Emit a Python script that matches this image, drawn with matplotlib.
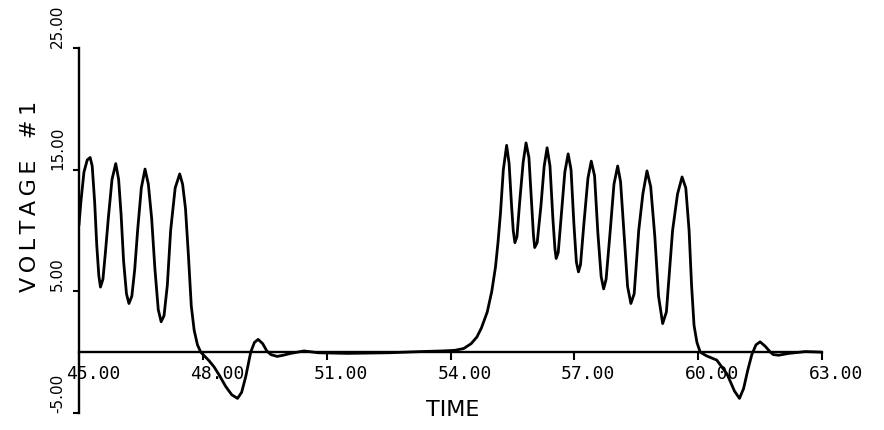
import matplotlib
matplotlib.use("Agg")
import matplotlib.pyplot as plt
import matplotlib.transforms as mtransforms

# time / voltage values
time = [45.00, 45.05, 45.12, 45.20, 45.27, 45.32, 45.38, 45.43, 45.48, 45.52,
        45.58, 45.64, 45.71, 45.80, 45.89, 45.96, 46.02, 46.08, 46.15, 46.21,
        46.28, 46.35, 46.42, 46.51, 46.60, 46.68, 46.76, 46.84, 46.92, 46.99,
        47.06, 47.14, 47.22, 47.33, 47.44, 47.51, 47.58, 47.65, 47.72, 47.79,
        47.87, 47.95, 48.05, 48.15, 48.27, 48.40, 48.55, 48.70, 48.84, 48.94,
        49.04, 49.10, 49.16, 49.25, 49.34, 49.45, 49.55, 49.65, 49.80, 49.95,
        50.13, 50.45, 50.80, 51.50, 52.50, 53.30, 53.80, 54.10, 54.32, 54.50,
        54.64, 54.75, 54.89, 55.00, 55.09, 55.15, 55.21, 55.28, 55.36, 55.42,
        55.48, 55.52, 55.56, 55.61, 55.68, 55.76, 55.83, 55.90, 55.96, 56.01,
        56.04, 56.10, 56.19, 56.27, 56.34, 56.41, 56.48, 56.53, 56.56, 56.61,
        56.69, 56.77, 56.85, 56.92, 56.99, 57.05, 57.10, 57.15, 57.23, 57.33,
        57.41, 57.49, 57.57, 57.65, 57.71, 57.77, 57.87, 57.96, 58.05, 58.12,
        58.21, 58.29, 58.37, 58.45, 58.56, 58.66, 58.76, 58.85, 58.95, 59.04,
        59.14, 59.23, 59.38, 59.50, 59.61, 59.70, 59.78, 59.84, 59.90, 59.97,
        60.05, 60.20, 60.45, 60.70, 60.88, 61.00, 61.10, 61.20, 61.30, 61.40,
        61.50, 61.62, 61.75, 61.82, 61.95, 62.20, 62.60, 63.00]
voltage = [10.5, 12.5, 14.8, 15.8, 16.0, 15.3, 12.3, 8.8, 6.3, 5.35,
           6.0, 8.2, 11.0, 14.2, 15.5, 14.2, 11.3, 7.5, 4.8, 4.0,
           4.6, 6.8, 10.0, 13.5, 15.05, 13.8, 11.0, 6.8, 3.5, 2.5,
           3.0, 5.5, 10.0, 13.5, 14.65, 13.8, 11.8, 8.0, 3.8, 1.8,
           0.6, 0.0, -0.35, -0.7, -1.2, -1.9, -2.8, -3.5, -3.8, -3.3,
           -2.0, -1.0, 0.0, 0.8, 1.05, 0.7, 0.1, -0.2, -0.35, -0.25,
           -0.1, 0.1, -0.05, -0.1, -0.05, 0.05, 0.1, 0.15, 0.3, 0.7,
           1.25, 2.0, 3.3, 5.0, 7.0, 9.0, 11.4, 15.0, 17.0, 15.5,
           12.0, 10.0, 9.0, 9.5, 12.5, 15.6, 17.2, 16.0, 12.5, 9.6,
           8.6, 9.0, 12.0, 15.3, 16.8, 15.3, 11.0, 8.5, 7.7, 8.2,
           11.5, 14.8, 16.3, 15.0, 10.5, 7.4, 6.6, 7.2, 10.5, 14.3,
           15.7, 14.5, 9.8, 6.2, 5.2, 6.0, 10.0, 13.8, 15.3, 14.0,
           9.5, 5.4, 4.0, 4.8, 10.0, 13.0, 14.9, 13.6, 9.5, 4.6,
           2.35, 3.3, 10.0, 13.0, 14.4, 13.5, 10.0, 5.5, 2.2, 0.8,
           0.0, -0.3, -0.65, -1.8, -3.2, -3.8, -3.0, -1.5, -0.2, 0.6,
           0.85, 0.5, 0.0, -0.2, -0.25, -0.1, 0.05, 0.0]

xticks = [45, 48, 51, 54, 57, 60, 63]
xtick_labels = ["45.00", "48.00", "51.00", "54.00", "57.00", "60.00", "63.00"]
yticks = [-5, 5, 15, 25]
ytick_labels = ["-5.00", "5.00", "15.00", "25.00"]

fig = plt.figure(figsize=(8.84, 4.30), dpi=100)
ax = fig.add_axes([79 / 884, 1 - 413 / 430, 743 / 884, 365 / 430])

ax.plot(time, voltage, color="black", lw=2.0)

ax.set_xlim(45, 63)
ax.set_ylim(-5, 25)
ax.spines["top"].set_visible(False)
ax.spines["right"].set_visible(False)
ax.spines["bottom"].set_position(("data", 0))
ax.spines["bottom"].set_linewidth(1.7)
ax.spines["left"].set_linewidth(1.7)

ax.set_xticks(xticks)
ax.set_xticklabels(xtick_labels, family="DejaVu Sans Mono", fontsize=13)
ax.set_yticks(yticks)
ax.set_yticklabels(ytick_labels, fontsize=11, rotation=90, va="bottom")
ax.tick_params(axis="x", direction="out", length=6, width=1.5, pad=3)
ax.tick_params(axis="y", direction="out", length=4, width=1.5, pad=6)

# labels in the original sit a bit right of their ticks
shift = mtransforms.ScaledTranslation(0.14, 0, fig.dpi_scale_trans)
for lab in ax.get_xticklabels():
    lab.set_transform(lab.get_transform() + shift)

fig.text(30 / 884, 1 - 196 / 430, "V\u2009O\u2009L\u2009T\u2009A\u2009G\u2009E   #\u20091",
         rotation=90, ha="center", va="center", fontsize=16)
fig.text(453 / 884, 1 - 410 / 430, "TIME", ha="center", va="center", fontsize=16)

fig.savefig("out.png", dpi=100)
